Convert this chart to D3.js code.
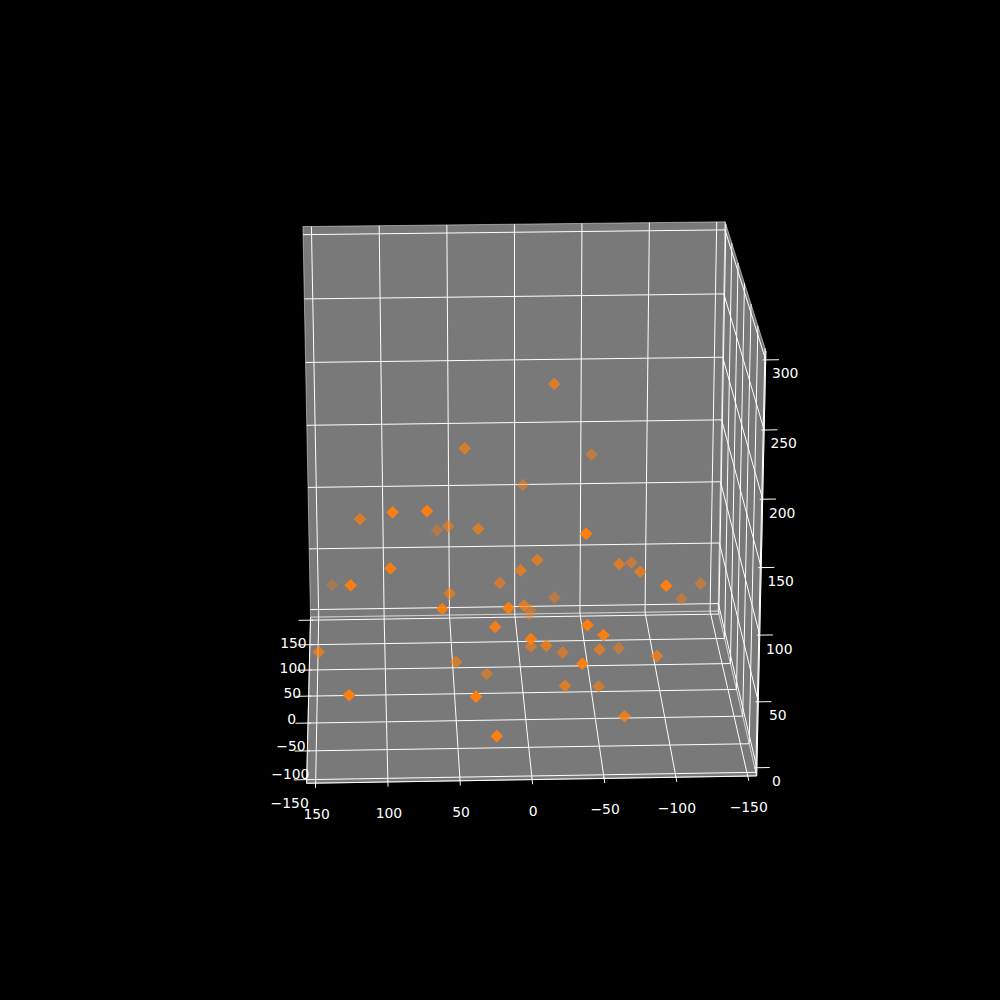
<!DOCTYPE html>
<html>
<head>
<meta charset="utf-8">
<script src="https://cdn.jsdelivr.net/npm/d3@7"></script>
<style>
    body { margin: 0; background: #000; }
</style>
</head>
<body>
<div id="chart"></div>
<script>
// scatter data (x, y, z)
const xs = [-24, 41, -54, -3, 117, 94, 70, 60, 53, 32, -40, 96, 139, 124, 53, 16, -10, 2, -69, -81,
    -84, -95, -133, -120, -26, 60, 14, 0, -8, -9, 23, -40, -52, -2, -6, -15, -29, -54, -72, -94,
    -37, 148, 49, 26, -28, -54, 126, 38, -69, 24]
const ys = [38, 25, 84, 78, 10, -69, -70, 102, 38, 5, -96, -67, 123, -86, 5, 22, -5, -7, -8, 39,
    -11, -111, 48, 61, 65, -78, -96, -16, 63, 109, -84, -118, -105, -88, 6, -42, 3, -29, 34, -48,
    -111, -21, -12, 10, -53, -22, -128, -132, -80, -142]
const zs = [220, 176, 149, 128, 128, 162, 163, 84, 111, 121, 154, 119, 33, 114, 71, 72, 100, 93, 97, 80,
    92, 120, 59, 42, 43, 92, 99, 69, 34, 12, 80, 94, 81, 72, 28, 48, 24, 39, 14, 41,
    62, 37, 24, 5, 21, 7, 48, 47, 8, 21]

const xTicks = [150, 100, 50, 0, -50, -100, -150]
const yTicks = [150, 100, 50, 0, -50, -100, -150]
const zTicks = [0, 50, 100, 150, 200, 250, 300]

const width = 1000, height = 1000
const elev = 20, azim = 2.32, dist = 9.70
const focal = 4060.5, focalY = 4032, cx = 523, cy = 493
const pad = 300 / 48

const cosE = Math.cos(elev * Math.PI / 180), sinE = Math.sin(elev * Math.PI / 180)
const cosA = Math.cos(azim * Math.PI / 180), sinA = Math.sin(azim * Math.PI / 180)

// data -> unit cube, x runs right to left
const ux = d3.scaleLinear().domain([150, -150]).range([-0.5, 0.5])
const vy = d3.scaleLinear().domain([-150, 150]).range([-0.5, 0.5])
const wz = d3.scaleLinear().domain([0, 300]).range([-0.5, 0.5])

function project(x, y, z) {
    const a = ux(x), b = vy(y), c = wz(z)
    const ur = a * cosA - b * sinA
    const vr = a * sinA + b * cosA
    const depth = dist + vr * cosE - c * sinE
    const yv = c * cosE + vr * sinE
    return [cx + focal * ur / depth, cy - focalY * yv / depth, depth]
}

const x0 = 150 + pad, x1 = -150 - pad
const y0 = -150 - pad, y1 = 150 + pad
const z0 = 0 - pad, z1 = 300 + pad

const svg = d3.select("#chart")
    .append("svg")
    .attr("width", width)
    .attr("height", height)
    .style("background", "#000")

const line = d3.line()
    .x(function (p) { return project(p[0], p[1], p[2])[0] })
    .y(function (p) { return project(p[0], p[1], p[2])[1] })

// panes: floor, back, right side
const panes = [
    [[x0, y0, z0], [x1, y0, z0], [x1, y1, z0], [x0, y1, z0]],
    [[x0, y1, z0], [x1, y1, z0], [x1, y1, z1], [x0, y1, z1]],
    [[x1, y0, z0], [x1, y1, z0], [x1, y1, z1], [x1, y0, z1]]
]
svg.append("g").selectAll("path")
    .data(panes)
    .enter().append("path")
    .attr("d", function (d) { return line(d) + "Z" })
    .attr("fill", "#f2f2f2")
    .attr("fill-opacity", 0.5)
    .attr("stroke", "#f2f2f2")
    .attr("stroke-opacity", 0.5)
    .attr("stroke-width", 1)

// grid lines
const grid = svg.append("g")
    .attr("fill", "none")
    .attr("stroke", "#fff")
    .attr("stroke-width", 1)

grid.selectAll(".gx")
    .data(xTicks)
    .enter().append("path")
    .attr("d", function (t) { return line([[t, y0, z0], [t, y1, z0], [t, y1, z1]]) })

grid.selectAll(".gy")
    .data(yTicks)
    .enter().append("path")
    .attr("d", function (t) { return line([[x0, t, z0], [x1, t, z0], [x1, t, z1]]) })

grid.selectAll(".gz")
    .data(zTicks)
    .enter().append("path")
    .attr("d", function (t) { return line([[x0, y1, t], [x1, y1, t], [x1, y0, t]]) })

// axis lines and ticks
const axes = svg.append("g")
    .attr("fill", "none")
    .attr("stroke", "#fff")
    .attr("stroke-width", 1)

axes.append("path").attr("d", line([[x0, y0, z0], [x1, y0, z0]]))
axes.append("path").attr("d", line([[x0, y0, z0], [x0, y1, z0]]))
axes.append("path").attr("d", line([[x1, y0, z0], [x1, y0, z1]]))

xTicks.forEach(function (t) {
    axes.append("path").attr("d", line([[t, y0 + 2, z0], [t, y0 - 8, z0]]))
})
yTicks.forEach(function (t) {
    axes.append("path").attr("d", line([[x0 - 2, t, z0], [x0 + 9, t, z0]]))
})
zTicks.forEach(function (t) {
    axes.append("path").attr("d", line([[x1 + 2, y0, t], [x1 - 9, y0, t]]))
})

function fmt(t) {
    return t < 0 ? "\u2212" + Math.abs(t) : String(t)
}

const labels = svg.append("g")
    .attr("fill", "#fff")
    .attr("font-family", "DejaVu Sans")
    .attr("font-size", "13.9px")
    .attr("text-anchor", "middle")
    .attr("dominant-baseline", "central")

labels.selectAll(".lx")
    .data(xTicks)
    .enter().append("text")
    .attr("x", function (t) { return project(t, y0, z0)[0] + 1 })
    .attr("y", function (t) { return project(t, y0, z0)[1] + 31 })
    .text(fmt)

labels.selectAll(".ly")
    .data(yTicks)
    .enter().append("text")
    .attr("x", function (t) { return project(x0, t, z0)[0] - 17 })
    .attr("y", function (t) { return project(x0, t, z0)[1] + 23 })
    .text(fmt)

labels.selectAll(".lz")
    .data(zTicks)
    .enter().append("text")
    .attr("x", function (t) { return project(x1, y0, t)[0] + 19.5 })
    .attr("y", function (t) { return project(x1, y0, t)[1] + 13.5 })
    .text(fmt)

// points with depth shading, far ones first
const points = xs.map(function (x, i) {
    const p = project(x, ys[i], zs[i])
    return { sx: p[0], sy: p[1], depth: p[2] }
})
const dExt = d3.extent(points, function (d) { return d.depth })
const shade = d3.scaleLinear().domain(dExt).range([1, 0.3])
points.sort(function (a, b) { return b.depth - a.depth })

const r = 6.4
svg.append("g").selectAll("path")
    .data(points)
    .enter().append("path")
    .attr("d", function (d) {
        return "M" + d.sx + "," + (d.sy - r) + "L" + (d.sx + r) + "," + d.sy +
            "L" + d.sx + "," + (d.sy + r) + "L" + (d.sx - r) + "," + d.sy + "Z"
    })
    .attr("fill", "#ff7f0e")
    .attr("fill-opacity", function (d) { return shade(d.depth) })
</script>
</body>
</html>
